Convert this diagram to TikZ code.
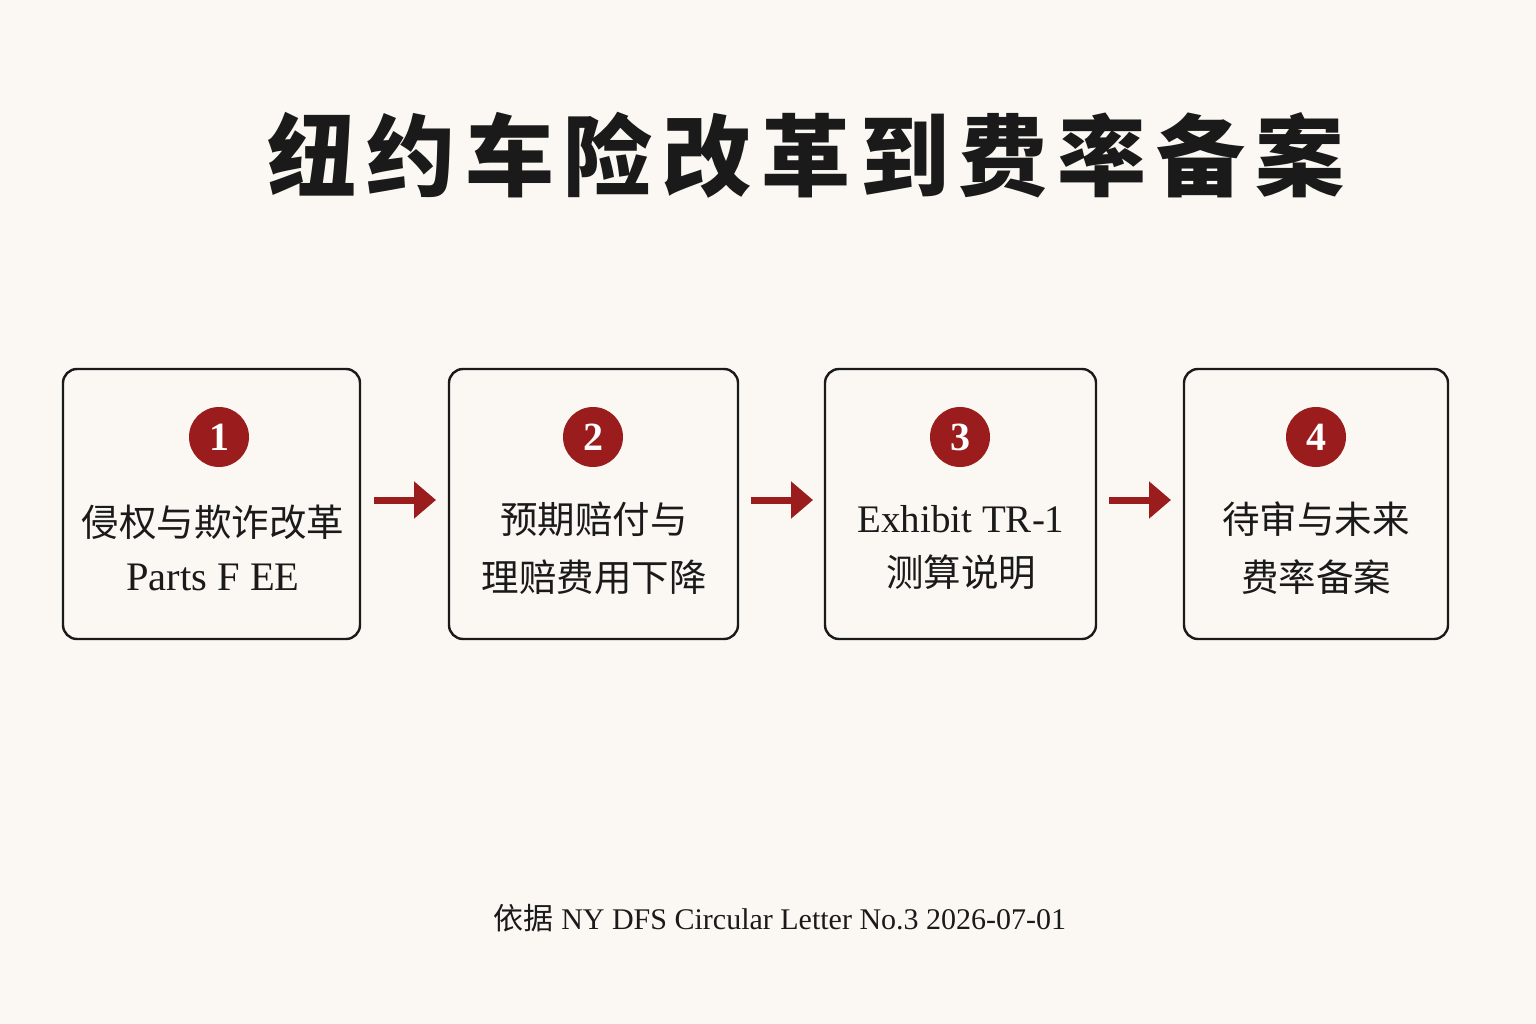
\documentclass[tikz,border=0pt]{standalone}
\usepackage{fontspec}
\setmainfont{Liberation Serif}
\newfontfamily\cjk{Noto Sans CJK SC}
\newfontfamily\cjktitle{Noto Sans CJK SC}[LetterSpace=11]
\usetikzlibrary{arrows.meta}
\definecolor{bg}{HTML}{FBF8F3}
\definecolor{accent}{HTML}{9B1C1C}
\definecolor{ink}{HTML}{1A1A1A}
\tikzset{
  stepbox/.style={draw=ink, line width=2.4pt, rounded corners=14pt},
  badge/.style={circle, fill=accent, minimum size=60pt, inner sep=0pt, text=white, font=\fontsize{40}{40}\selectfont\bfseries},
  label/.style={align=center, text=ink, font=\fontsize{37.5}{58}\selectfont},
  flowarrow/.style={draw=accent, line width=7pt, -{Triangle[length=22pt,width=36pt]}},
}
\begin{document}
\begin{tikzpicture}[x=1pt,y=-1pt]
\fill[bg] (0,0) rectangle (1536,1024);
\useasboundingbox (0,0) rectangle (1536,1024);
\node[text=ink, font=\cjktitle\bfseries\fontsize{89}{89}\selectfont] (title) at (806,155) {纽约车险改革到费率备案};
% boxes
\draw[stepbox] (63,369) rectangle (360,639);
\draw[stepbox] (449,369) rectangle (738,639);
\draw[stepbox] (825,369) rectangle (1096,639);
\draw[stepbox] (1184,369) rectangle (1448,639);
\node[badge] (b1) at (219,437) {1};
\node[badge] (b2) at (593,437) {2};
\node[badge] (b3) at (960,437) {3};
\node[badge] (b4) at (1316,437) {4};
\node[label] (t1) at (213,548) {{\cjk 侵权与欺诈改革}\\[-4pt]\fontsize{40.5}{40}\selectfont Parts F EE};
\node[label] (t2) at (594,548) {{\cjk 预期赔付与}\\{\cjk 理赔费用下降}};
\node[label] (t3) at (961,548) {\fontsize{39}{40}\selectfont Exhibit TR-1\\[-4pt]{\cjk\fontsize{37.5}{36}\selectfont 测算说明}};
\node[label] (t4) at (1316,548) {{\cjk 待审与未来}\\{\cjk 费率备案}};
% arrows
\coordinate (a1s) at (374,500); \coordinate (a1e) at (436,500);
\coordinate (a2s) at (751,500); \coordinate (a2e) at (813,500);
\coordinate (a3s) at (1109,500); \coordinate (a3e) at (1171,500);
\draw[flowarrow] (a1s) -- (a1e);
\draw[flowarrow] (a2s) -- (a2e);
\draw[flowarrow] (a3s) -- (a3e);
\node[text=ink, font=\fontsize{30}{30}\selectfont] (foot) at (780,918) {{\cjk 依据} NY DFS Circular Letter No.3 2026-07-01};
\end{tikzpicture}
\end{document}
